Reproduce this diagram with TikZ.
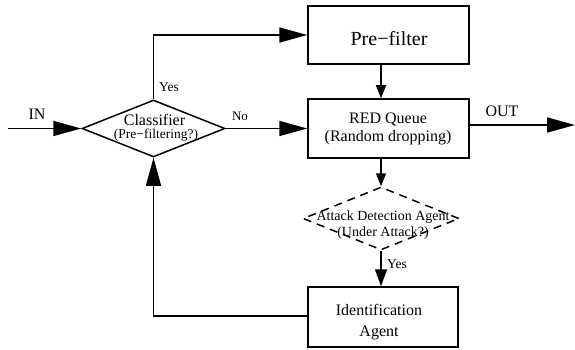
\documentclass[tikz,border=0pt]{standalone}
\usepackage{fontspec}
\setmainfont{Liberation Serif}
\usetikzlibrary{shapes.geometric,arrows.meta}
\tikzset{
  box/.style={draw, line width=1.5pt, rectangle, inner sep=0pt},
  dia/.style={draw, line width=1.5pt, diamond, inner sep=0pt},
  conn/.style={line width=1.5pt},
  bigarrow/.style={conn, -{Triangle[length=28pt,width=15pt]}},
  smallarrow/.style={conn, -{Triangle[length=13pt,width=10pt]}},
  midarrow/.style={conn, -{Triangle[length=17pt,width=12pt]}},
  txt/.style={inner sep=0pt, align=center},
}
\begin{document}
\begin{tikzpicture}[x=1pt,y=-1pt]
\useasboundingbox (0,0) rectangle (575,350);
% boxes
\node[box, minimum width=161pt, minimum height=58pt] (pre) at (388.5,35) {};
\node[txt, font=\fontsize{20}{22}\selectfont] (pretxt) at (389,39) {Pre−filter};
\node[box, minimum width=161pt, minimum height=59pt] (red) at (388.5,128.5) {};
\node[txt, font=\fontsize{16}{18}\selectfont] (redtxt) at (388,129) {RED Queue\\(Random dropping)};
\node[box, minimum width=150pt, minimum height=60pt] (id) at (383,317) {};
\node[txt, font=\fontsize{16}{21}\selectfont] (idtxt) at (379,322) {Identification\\Agent};
% diamonds
\node[dia, minimum width=143pt, minimum height=57pt] (cls) at (153.5,128.5) {};
\node[txt, font=\fontsize{16}{18}\selectfont] (clstxt) at (154.5,120) {Classifier};
\node[txt, font=\fontsize{13.5}{15}\selectfont] (clstxt2) at (156,135.5) {(Pre−filtering?)};
\node[dia, dashed, dash pattern=on 8pt off 6pt, minimum width=156pt, minimum height=63pt] (att) at (381,218.5) {};
\node[txt, font=\fontsize{14}{16}\selectfont] (atttxt) at (383,225) {Attack Detection Agent\\(Under Attack?)};
% free ends
\coordinate (in) at (8,128.5);
\coordinate (out) at (575,125);
\coordinate (yescorner) at (153.5,35);
\coordinate (fbcorner) at (153.5,316);
% connectors
\draw[bigarrow] (in) -- (cls.west);
\draw[bigarrow] (cls.east) -- (red.west);
\draw[bigarrow] (cls.north) -- (yescorner) -- (pre.west);
\draw[bigarrow] (red.east |- out) -- (out);
\draw[smallarrow] (pre.south -| 381,0) -- (red.north -| 381,0);
\draw[smallarrow] (red.south -| 381,0) -- (att.north);
\draw[midarrow] (att.south) -- (id.north -| att.south);
\draw[bigarrow] (id.west |- fbcorner) -- (fbcorner) -- (cls.south);
% labels
\node[txt, font=\fontsize{16}{18}\selectfont] (inlbl) at (37,114) {IN};
\node[txt, font=\fontsize{13}{15}\selectfont] (nolbl) at (240,116) {No};
\node[txt, font=\fontsize{13.5}{15}\selectfont] (yeslbl) at (169,87) {Yes};
\node[txt, font=\fontsize{16}{18}\selectfont] (outlbl) at (502,111) {OUT};
\node[txt, font=\fontsize{13.5}{15}\selectfont] (yes2lbl) at (397,264) {Yes};
\end{tikzpicture}
\end{document}
